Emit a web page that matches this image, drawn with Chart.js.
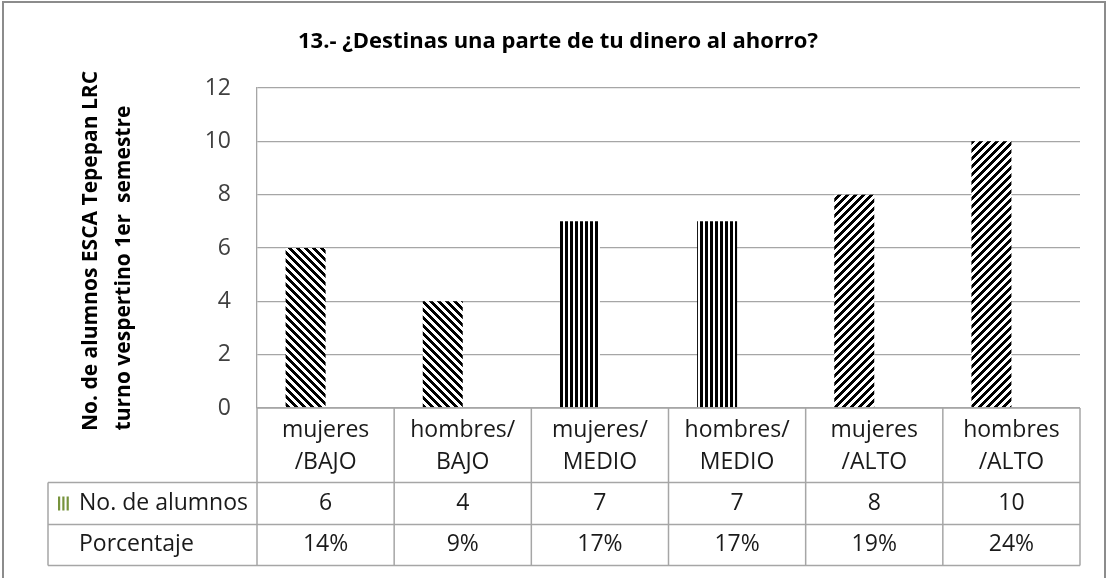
<!DOCTYPE html>
<html>
<head>
<meta charset="utf-8">
<script src="https://cdn.jsdelivr.net/npm/chart.js@4.4.1/dist/chart.umd.min.js"></script>
<style>
  html, body { margin: 0; padding: 0; background: #fff; }
  #wrap { width: 1109px; height: 578px; position: relative; }
</style>
</head>
<body>
<div id="wrap"><canvas id="chart" width="1109" height="578"></canvas></div>
<script>
// --- Data ---
const categories = [
    ["mujeres", "/BAJO"],
    ["hombres/", "BAJO"],
    ["mujeres/", "MEDIO"],
    ["hombres/", "MEDIO"],
    ["mujeres", "/ALTO"],
    ["hombres", "/ALTO"],
];
const alumnos = [6, 4, 7, 7, 8, 10];
const porcentaje = [14, 9, 17, 17, 19, 24];
const yTicks = [0, 2, 4, 6, 8, 10, 12];
const seriesNames = ["No. de alumnos", "Porcentaje"];
const chartTitle = "13.- ¿Destinas una parte de tu dinero al ahorro?";
const yTitle = ["No. de alumnos ESCA Tepepan LRC", "turno vespertino 1er  semestre"];

const FONT = "'Open Sans', 'Noto Sans', sans-serif";
const GRID = "#a6a6a6";

const canvas = document.getElementById("chart");
const ctx = canvas.getContext("2d");

// hatch fills like the Excel patterns: "\" for BAJO, "|" for MEDIO, "/" for ALTO
function hatch(kind) {
    const c = document.createElement("canvas");
    const s = kind === "vert" ? 5 : 8;
    c.width = s; c.height = s;
    const g = c.getContext("2d");
    g.fillStyle = "#fff";
    g.fillRect(0, 0, s, s);
    g.fillStyle = "#000";
    if (kind === "vert") {
        g.fillRect(0, 0, 3, s);
    } else {
        // crisp pixel stripes, no antialiasing
        for (let y = 0; y < s; y++) {
            for (let x = 0; x < s; x++) {
                const d = kind === "back" ? (x - y + s) % s : (x + y) % s;
                if (d < 4) g.fillRect(x, y, 1, 1);
            }
        }
    }
    return ctx.createPattern(c, "repeat");
}

function fillFor(label) {
    const level = label.join("");
    if (level.includes("BAJO")) return hatch("back");
    if (level.includes("MEDIO")) return hatch("vert");
    return hatch("fwd");
}

// --- Title, axis title, data table and frame ---
const decorPlugin = {
    id: "decor",
    afterDraw(chart) {
        const c = chart.ctx;
        const a = chart.chartArea;
        const xs = chart.scales.x;
        const colW = (a.right - a.left) / categories.length;
        const rowY = [a.bottom, a.bottom + 74.5, a.bottom + 116.5, a.bottom + 157.5];
        const tableLeft = 48;

        c.save();

        // chart title
        c.fillStyle = "#000";
        c.font = `bold 22px ${FONT}`;
        c.textAlign = "center";
        c.textBaseline = "alphabetic";
        c.fillText(chartTitle, 558, 48);

        // y axis title (two rotated lines)
        c.font = `bold 21px ${FONT}`;
        [[251, 97], [268, 130]].forEach(([cy, base], i) => {
            c.save();
            c.translate(0, cy);
            c.rotate(-Math.PI / 2);
            c.fillText(yTitle[i], 0, base);
            c.restore();
        });

        // table grid
        c.strokeStyle = GRID;
        c.lineWidth = 1.5;
        c.beginPath();
        c.moveTo(a.left, rowY[0]); c.lineTo(a.right, rowY[0]);
        for (let r = 1; r < rowY.length; r++) {
            c.moveTo(tableLeft, rowY[r]); c.lineTo(a.right, rowY[r]);
        }
        c.moveTo(tableLeft, rowY[1]); c.lineTo(tableLeft, rowY[3]);
        for (let i = 0; i <= categories.length; i++) {
            const x = a.left + i * colW;
            c.moveTo(x, rowY[0]); c.lineTo(x, rowY[3]);
        }
        c.stroke();

        // table text
        c.fillStyle = "#1a1a1a";
        c.font = `23px ${FONT}`;
        c.textAlign = "center";
        c.textBaseline = "middle";
        categories.forEach((lab, i) => {
            const x = xs.getPixelForValue(i);
            c.fillText(lab[0], x, rowY[0] + 22);
            c.fillText(lab[1], x, rowY[0] + 54);
            c.fillText(String(alumnos[i]), x, rowY[1] + 21);
            c.fillText(porcentaje[i] + "%", x, rowY[2] + 20);
        });

        // row headers with legend key
        c.textAlign = "left";
        c.fillText(seriesNames[0], 79, rowY[1] + 21);
        c.fillText(seriesNames[1], 79, rowY[2] + 20);
        c.fillStyle = "#77933c";
        for (let k = 0; k < 3; k++) {
            c.fillRect(58 + k * 4.3, rowY[1] + 14, 2.2, 14);
        }

        // outer frame
        c.strokeStyle = "#8c8c8c";
        c.lineWidth = 2;
        c.strokeRect(3, 2, 1102, 640);

        c.restore();
    },
};

new Chart(canvas, {
    type: "bar",
    data: {
        labels: categories,
        datasets: [
            {
                label: seriesNames[0],
                data: alumnos,
                backgroundColor: categories.map(fillFor),
                borderWidth: 0,
                categoryPercentage: 0.583,
                barPercentage: 1,
            },
            {
                label: seriesNames[1],
                data: porcentaje.map((p) => p / 100),
                backgroundColor: "rgba(0,0,0,0)",
                borderWidth: 0,
                categoryPercentage: 0.583,
                barPercentage: 1,
            },
        ],
    },
    options: {
        responsive: false,
        animation: false,
        layout: { padding: { top: 88, right: 29, bottom: 170, left: 0 } },
        plugins: {
            legend: { display: false },
            title: { display: false },
            tooltip: { enabled: false },
        },
        scales: {
            x: { display: false, offset: true },
            y: {
                min: 0,
                max: 12,
                afterFit(scale) { scale.width = 257; },
                afterBuildTicks(scale) { scale.ticks = yTicks.map((v) => ({ value: v })); },
                ticks: {
                    padding: 26,
                    color: "#404040",
                    font: { family: FONT, size: 23 },
                },
                grid: { color: GRID, lineWidth: 1.3, drawTicks: false },
                border: { color: GRID, width: 1.3 },
            },
        },
    },
    plugins: [decorPlugin],
});
</script>
</body>
</html>
